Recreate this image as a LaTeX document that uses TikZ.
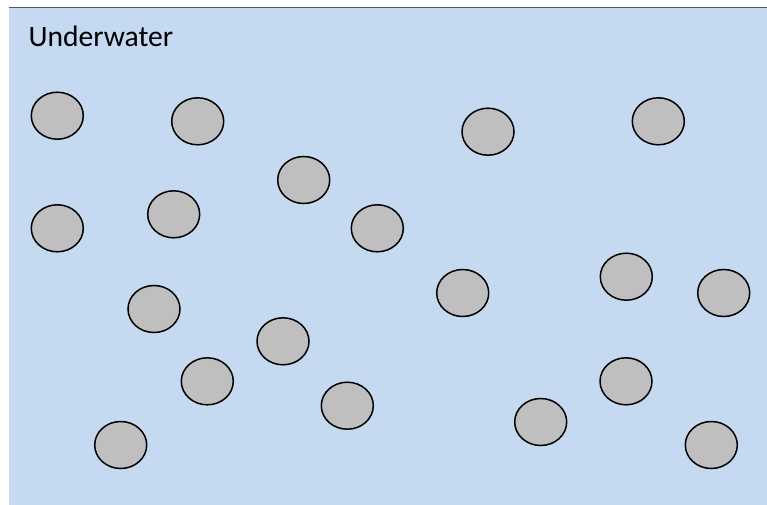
\documentclass[tikz,border=0pt]{standalone}
\usepackage{fontspec}
\setmainfont{Carlito}
\definecolor{water}{RGB}{197,217,241}
\definecolor{stone}{RGB}{191,191,191}
\definecolor{edge}{RGB}{80,88,96}
\tikzset{
  pebble/.style={ellipse, draw=black, line width=1.5pt, fill=stone, minimum width=52pt, minimum height=47pt, inner sep=0pt},
}
\usetikzlibrary{shapes.geometric}
\begin{document}
\begin{tikzpicture}[x=1pt,y=-1pt]
\useasboundingbox (0,0) rectangle (767,505);
\fill[white] (0,0) rectangle (767,505);
\fill[water] (9,8) rectangle (767,505);
\draw[edge, line width=1pt] (9,7.5) -- (767,7.5);
\node[anchor=base west, inner sep=0pt, font=\fontsize{29.6}{35}\selectfont] (title) at (28.3,46.7) {Underwater};
\node[pebble] (p1) at (57.3,115.7) {};
\node[pebble] (p2) at (197.7,121.3) {};
\node[pebble] (p3) at (303.7,180) {};
\node[pebble] (p4) at (173.7,214.3) {};
\node[pebble] (p5) at (57.3,228.3) {};
\node[pebble] (p6) at (377.3,228.3) {};
\node[pebble] (p7) at (488,131.7) {};
\node[pebble] (p8) at (658.3,121.3) {};
\node[pebble] (p9) at (626.3,276.7) {};
\node[pebble] (p10) at (723.7,293) {};
\node[pebble] (p11) at (462.7,293) {};
\node[pebble] (p12) at (154,309) {};
\node[pebble] (p13) at (283,341.3) {};
\node[pebble] (p14) at (207.3,381.3) {};
\node[pebble] (p15) at (347.3,405.7) {};
\node[pebble] (p16) at (120.7,445) {};
\node[pebble] (p17) at (540.7,422) {};
\node[pebble] (p18) at (626,381.3) {};
\node[pebble] (p19) at (711.3,445) {};
\end{tikzpicture}
\end{document}
